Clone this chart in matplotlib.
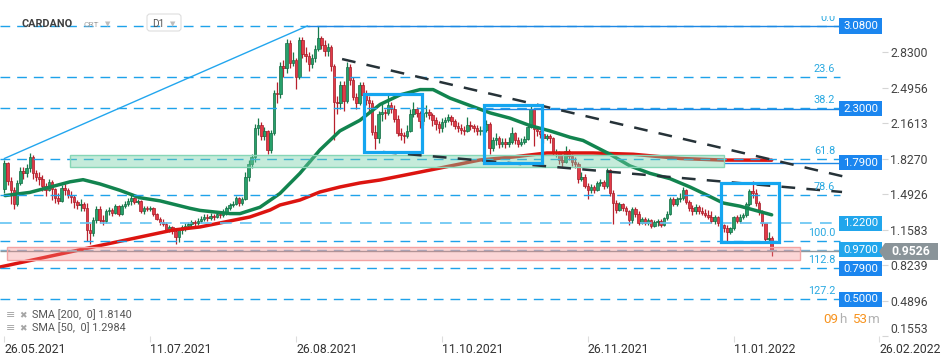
import matplotlib
matplotlib.use("Agg")
import matplotlib.pyplot as plt
import matplotlib.transforms as mtransforms
from matplotlib.patches import Rectangle, Polygon, FancyBboxPatch
import numpy as np

plt.rcParams['font.family'] = ['Roboto', 'DejaVu Sans']

# daily candles from 26.05.2021, day index 0 = 26.05.2021 (open = previous close)
first_open = 1.54
close = [1.79, 1.62, 1.53, 1.40, 1.60, 1.71, 1.69, 1.74, 1.84, 1.69,
         1.66, 1.64, 1.57, 1.53, 1.61, 1.54, 1.46, 1.43, 1.55, 1.53,
         1.49, 1.47, 1.42, 1.39, 1.40, 1.36, 1.16, 1.13, 1.25, 1.35,
         1.25, 1.24, 1.33, 1.34, 1.32, 1.38, 1.31, 1.38, 1.40, 1.43,
         1.46, 1.42, 1.43, 1.33, 1.36, 1.35, 1.36, 1.31, 1.26, 1.23,
         1.21, 1.16, 1.18, 1.15, 1.09, 1.16, 1.18, 1.19, 1.21, 1.23,
         1.22, 1.24, 1.26, 1.28, 1.27, 1.29, 1.28, 1.31, 1.30, 1.32,
         1.36, 1.39, 1.40, 1.46, 1.41, 1.45, 1.66, 1.78, 1.84, 2.12,
         2.15, 2.04, 2.09, 1.91, 2.07, 2.45, 2.44, 2.70, 2.68, 2.92,
         2.73, 2.76, 2.60, 2.95, 2.82, 2.80, 2.72, 2.78, 2.86, 2.97,
         2.90, 2.84, 2.88, 2.70, 2.36, 2.35, 2.52, 2.37, 2.69, 2.57,
         2.41, 2.35, 2.52, 2.43, 2.38, 2.35, 2.08, 2.02, 2.25, 2.27,
         2.26, 2.33, 2.30, 2.20, 2.07, 2.05, 2.04, 2.09, 2.25, 2.30,
         2.26, 2.18, 2.26, 2.27, 2.24, 2.19, 2.16, 2.12, 2.17, 2.19,
         2.22, 2.18, 2.14, 2.12, 2.10, 2.09, 2.15, 2.14, 2.12, 2.09,
         2.09, 2.10, 2.16, 1.93, 2.00, 2.02, 1.97, 1.99, 1.97, 1.99,
         2.07, 2.00, 1.97, 1.99, 2.01, 2.13, 2.30, 2.11, 2.09, 2.06,
         2.02, 2.04, 2.02, 1.88, 1.88, 1.82, 1.80, 1.90, 1.85, 1.80,
         1.78, 1.64, 1.66, 1.57, 1.53, 1.56, 1.53, 1.60, 1.61, 1.57,
         1.72, 1.50, 1.41, 1.34, 1.40, 1.36, 1.33, 1.25, 1.35, 1.31,
         1.22, 1.26, 1.22, 1.25, 1.19, 1.23, 1.24, 1.20, 1.27, 1.31,
         1.45, 1.40, 1.45, 1.46, 1.53, 1.42, 1.36, 1.33, 1.37, 1.33,
         1.32, 1.30, 1.28, 1.24, 1.28, 1.22, 1.20, 1.17, 1.14, 1.17,
         1.28, 1.24, 1.28, 1.30, 1.40, 1.52, 1.50, 1.41, 1.33, 1.22,
         1.07, 1.08, 0.9526]
high = [1.82, 1.80, 1.66, 1.56, 1.63, 1.75, 1.75, 1.78, 1.88, 1.86,
        1.72, 1.70, 1.67, 1.60, 1.64, 1.63, 1.55, 1.50, 1.58, 1.60,
        1.55, 1.52, 1.49, 1.44, 1.45, 1.42, 1.41, 1.22, 1.28, 1.38,
        1.38, 1.30, 1.35, 1.37, 1.36, 1.40, 1.39, 1.40, 1.43, 1.46,
        1.50, 1.47, 1.45, 1.44, 1.38, 1.38, 1.38, 1.37, 1.32, 1.28,
        1.26, 1.23, 1.20, 1.19, 1.17, 1.17, 1.20, 1.22, 1.23, 1.25,
        1.25, 1.27, 1.29, 1.31, 1.31, 1.32, 1.31, 1.33, 1.33, 1.35,
        1.38, 1.41, 1.43, 1.48, 1.47, 1.47, 1.70, 1.82, 1.87, 2.16,
        2.21, 2.17, 2.13, 2.10, 2.10, 2.48, 2.55, 2.74, 2.76, 2.96,
        2.95, 2.83, 2.78, 2.98, 2.98, 2.88, 2.83, 2.82, 2.90, 3.08,
        2.99, 2.95, 2.92, 2.90, 2.72, 2.42, 2.56, 2.56, 2.74, 2.72,
        2.60, 2.45, 2.55, 2.55, 2.48, 2.42, 2.38, 2.15, 2.28, 2.35,
        2.30, 2.45, 2.36, 2.33, 2.24, 2.12, 2.08, 2.15, 2.30, 2.36,
        2.32, 2.28, 2.30, 2.33, 2.30, 2.26, 2.22, 2.18, 2.21, 2.22,
        2.25, 2.24, 2.20, 2.17, 2.16, 2.14, 2.22, 2.18, 2.16, 2.15,
        2.14, 2.14, 2.19, 2.17, 2.03, 2.07, 2.04, 2.02, 2.02, 2.03,
        2.13, 2.08, 2.03, 2.02, 2.04, 2.16, 2.33, 2.31, 2.14, 2.10,
        2.08, 2.06, 2.06, 2.03, 1.92, 1.90, 1.86, 1.95, 1.92, 1.87,
        1.84, 1.80, 1.70, 1.68, 1.60, 1.59, 1.58, 1.62, 1.64, 1.63,
        1.74, 1.73, 1.53, 1.44, 1.42, 1.41, 1.38, 1.34, 1.37, 1.37,
        1.33, 1.28, 1.28, 1.27, 1.26, 1.25, 1.26, 1.26, 1.28, 1.33,
        1.47, 1.47, 1.47, 1.50, 1.56, 1.54, 1.44, 1.39, 1.40, 1.39,
        1.37, 1.35, 1.34, 1.33, 1.30, 1.29, 1.24, 1.21, 1.20, 1.18,
        1.29, 1.30, 1.31, 1.32, 1.42, 1.54, 1.62, 1.54, 1.43, 1.34,
        1.20, 1.14, 1.10]
low = [1.50, 1.58, 1.40, 1.35, 1.38, 1.58, 1.64, 1.66, 1.70, 1.64,
       1.62, 1.58, 1.52, 1.48, 1.52, 1.44, 1.41, 1.40, 1.42, 1.49,
       1.46, 1.41, 1.36, 1.35, 1.33, 1.33, 1.05, 1.02, 1.10, 1.22,
       1.22, 1.20, 1.22, 1.30, 1.29, 1.31, 1.29, 1.30, 1.36, 1.38,
       1.39, 1.40, 1.40, 1.32, 1.31, 1.33, 1.33, 1.29, 1.25, 1.20,
       1.19, 1.15, 1.14, 1.12, 1.02, 1.04, 1.12, 1.15, 1.17, 1.18,
       1.19, 1.20, 1.22, 1.24, 1.24, 1.25, 1.25, 1.27, 1.27, 1.28,
       1.30, 1.34, 1.37, 1.39, 1.38, 1.39, 1.44, 1.62, 1.74, 1.80,
       2.05, 2.00, 2.00, 1.87, 1.88, 2.05, 2.35, 2.40, 2.60, 2.64,
       2.68, 2.70, 2.49, 2.58, 2.78, 2.74, 2.66, 2.68, 2.74, 2.84,
       2.86, 2.80, 2.80, 2.66, 2.00, 2.25, 2.30, 2.28, 2.35, 2.52,
       2.38, 2.30, 2.33, 2.40, 2.33, 2.28, 2.05, 1.92, 1.98, 2.18,
       2.20, 2.24, 2.26, 2.17, 2.04, 2.00, 1.98, 2.02, 2.08, 2.22,
       2.22, 2.12, 2.15, 2.22, 2.20, 2.14, 2.10, 2.07, 2.08, 2.13,
       2.17, 2.15, 2.11, 2.08, 2.06, 2.05, 2.08, 2.10, 2.08, 2.05,
       2.05, 2.05, 2.08, 1.87, 1.90, 1.96, 1.93, 1.94, 1.93, 1.94,
       1.97, 1.97, 1.94, 1.95, 1.97, 2.00, 2.12, 1.95, 2.04, 2.02,
       1.98, 2.00, 1.98, 1.86, 1.84, 1.78, 1.75, 1.79, 1.82, 1.76,
       1.74, 1.60, 1.62, 1.55, 1.45, 1.50, 1.50, 1.52, 1.57, 1.54,
       1.55, 1.48, 1.21, 1.32, 1.33, 1.33, 1.30, 1.20, 1.22, 1.28,
       1.20, 1.21, 1.20, 1.20, 1.17, 1.18, 1.19, 1.18, 1.19, 1.25,
       1.30, 1.38, 1.38, 1.42, 1.44, 1.40, 1.33, 1.30, 1.31, 1.31,
       1.30, 1.28, 1.26, 1.22, 1.21, 1.19, 1.17, 1.14, 1.05, 1.12,
       1.16, 1.22, 1.22, 1.26, 1.28, 1.38, 1.46, 1.38, 1.30, 1.19,
       1.03, 1.03, 0.91]

sma200_days = [-1.4, 27.9, 53.2, 61.7, 77.4, 83.8, 86.9, 93.2, 99.5, 105.8, 112.1,
               118.5, 131.1, 143.7, 150.0, 160.4, 171.1, 185.6, 198.3, 213.1, 226.7, 242]
sma200_vals = [0.806, 0.995, 1.155, 1.184, 1.278, 1.344, 1.391, 1.438, 1.514, 1.561, 1.599,
               1.627, 1.702, 1.778, 1.816, 1.844, 1.882, 1.882, 1.87, 1.83, 1.815, 1.814]
sma50_days = [0.2, 8.0, 14.4, 20.7, 24.8, 30.1, 36.4, 42.7, 49.1, 58.5, 61.7, 71.1, 74.3,
              80.6, 86.9, 93.2, 99.5, 105.8, 112.1, 118.5, 124.8, 131.1, 135.2, 140.5,
              146.8, 153.2, 159.5, 165.8, 172.1, 178.4, 182.5, 191.0, 197.3, 203.6,
              209.9, 216.3, 222.6, 226.7, 232.0, 242]
sma50_vals = [1.48, 1.51, 1.56, 1.61, 1.63, 1.59, 1.53, 1.46, 1.43, 1.36, 1.34, 1.31, 1.31,
              1.37, 1.50, 1.69, 1.91, 2.09, 2.19, 2.34, 2.43, 2.48, 2.48, 2.40,
              2.33, 2.26, 2.21, 2.14, 2.09, 2.03, 2.00, 1.87, 1.76, 1.69,
              1.64, 1.56, 1.47, 1.41, 1.38, 1.2984]

fib_top = 3.08
fib_bottom = 1.052
fib_pct = [0.0, 23.6, 38.2, 61.8, 78.6, 100.0, 112.8, 127.2]

level_prices = [3.08, 2.30, 1.79, 1.22, 0.97, 0.79, 0.50]
level_light = [False, False, False, True, True, False, False]
last_price = 0.9526

price_ticks = [2.8300, 2.4956, 2.1613, 1.8270, 1.4926, 1.1583, 0.8239, 0.4896, 0.1553]
date_ticks = [0, 46, 92, 138, 184, 230, 276]
date_labels = ['26.05.2021', '11.07.2021', '26.08.2021', '11.10.2021',
               '26.11.2021', '11.01.2022', '26.02.2022']

# drawings on the chart: (day, price)
upper_trend = [(106.5, 2.768), (266.7, 1.646)]
lower_trend = [(119.4, 1.891), (264.2, 1.514)]
rise_line = [(0.0, 1.83), (95.5, 3.08)]
boxes = [(113.4, 131.7, 1.891, 2.438), (151.3, 169.6, 1.787, 2.335), (225.9, 244.3, 1.042, 1.599)]
green_zone = (20.7, 227.0, 1.750, 1.863)
red_zone = (0.8, 251.0, 0.868, 0.995)

W, H = 950, 361
XMIN, XMAX = -1.4, 276.8
LINE_END = 263.6
TOP_PX, BOT_PX = 16, 336

fig = plt.figure(figsize=(W / 100, H / 100), dpi=100)
ax = fig.add_axes([0, (H - BOT_PX) / H, 882 / W, (BOT_PX - TOP_PX) / H])
ax.set_xlim(XMIN, XMAX)
ax.set_ylim(0.1553, 0.1553 + (BOT_PX - TOP_PX) / 106)
for s in ax.spines.values():
    s.set_visible(False)

# candles
c = np.array(close)
h = np.array(high)
l = np.array(low)
o = np.r_[first_open, c[:-1]]
d = np.arange(len(c))
up = c >= o
body_lo = np.minimum(o, c)
body_h = np.maximum(np.abs(c - o), 0.008)
ax.vlines(d, np.minimum(l, body_lo), np.maximum(h, body_lo + body_h),
          colors=np.where(up, '#177a4c', '#b8202d'), lw=0.9, zorder=2)
ax.bar(d, body_h, bottom=body_lo, width=0.8, color=np.where(up, '#27a06b', '#e23a47'),
       edgecolor=np.where(up, '#146c43', '#a51c28'), linewidth=0.5, zorder=2.2)

# moving averages
ax.plot(sma200_days, sma200_vals, color='#dc1410', lw=2.5, solid_capstyle='round', zorder=3)
ax.plot(sma50_days, sma50_vals, color='#12844f', lw=2.5, solid_capstyle='round', zorder=3)

# fibonacci levels
fib_span = fib_top - fib_bottom
for p in fib_pct:
    y = fib_top - p / 100 * fib_span
    ax.hlines(y, XMIN, LINE_END, color='#1ea2ea', lw=1.0, linestyles=(0, (7, 5)), zorder=3.5)
    ax.text(262, y + 0.03, f'{p:.1f}', ha='right', va='bottom', fontsize=7.8, color='#29a9e1',
            clip_on=True, zorder=6)

# horizontal levels
ax.hlines(3.08, rise_line[1][0], LINE_END, color='#1e88e5', lw=1.0, zorder=3.6)
ax.hlines(2.30, boxes[1][0], LINE_END, color='#1e88e5', lw=1.0, zorder=3.6)
ax.hlines(1.79, green_zone[1], LINE_END, color='#1e88e5', lw=1.0, zorder=3.6)
ax.hlines(1.22, XMIN, LINE_END, color='#63c3f2', lw=1.2, linestyles=(0, (7, 5)), zorder=3.5)
ax.hlines(0.97, XMIN, LINE_END, color='#7fb4d6', lw=1.0, linestyles=(0, (7, 5)), zorder=3.5)
ax.hlines(last_price, XMIN, LINE_END, color='#8f979b', lw=1.0, zorder=3.6)

# zones
gz = green_zone
ax.add_patch(Rectangle((gz[0], gz[2]), gz[1] - gz[0], gz[3] - gz[2], fc=(0.45, 0.82, 0.66, 0.42),
                       ec='#86d6b6', lw=1.0, zorder=4))
rz = red_zone
ax.add_patch(Rectangle((rz[0], rz[2]), rz[1] - rz[0], rz[3] - rz[2], fc=(0.96, 0.55, 0.55, 0.35),
                       ec='#f2a3a3', lw=1.0, zorder=4))

# trend lines
ax.plot(*zip(*rise_line), color='#22a6ee', lw=1.0, zorder=3.6)
for line in (upper_trend, lower_trend):
    ax.plot(*zip(*line), color='#263238', lw=1.8, linestyle=(0, (5.5, 4.5)), zorder=5)
for x0, x1, y0, y1 in boxes:
    ax.add_patch(Rectangle((x0, y0), x1 - x0, y1 - y0, fill=False, ec='#15a6f0', lw=2.3, zorder=5))

# price boxes on the right
blend = mtransforms.blended_transform_factory(ax.transAxes, ax.transData)
bh = 0.142
for price, light in zip(level_prices, level_light):
    fc = '#21a6ec' if light else '#1b86ef'
    ax.add_patch(Rectangle((839 / 882, price - bh / 2), 42.5 / 882, bh, transform=blend,
                           fc=fc, ec='none', zorder=7))
    ax.text(860.5 / 882, price, f'{price:.4f}', transform=blend, ha='center', va='center',
            fontsize=8.2, color='white', zorder=8)

# last price tag
tag = Polygon([(879 / 882, last_price), (885 / 882, last_price + 0.08), (938 / 882, last_price + 0.08),
               (938 / 882, last_price - 0.08), (885 / 882, last_price - 0.08)],
              closed=True, transform=blend, fc='#8a9499', ec='none', clip_on=False, zorder=9)
ax.add_patch(tag)
ax.text(911 / 882, last_price, f'{last_price:.4f}', transform=blend, ha='center', va='center',
        fontsize=8.8, fontweight='bold', color='white', clip_on=False, zorder=10)

# axes
ax.yaxis.tick_right()
ax.set_yticks(price_ticks)
ax.set_yticklabels([f'{v:.4f}' for v in price_ticks])
ax.tick_params(axis='y', length=4, width=0.8, color='#d5d5d5', labelcolor='#444444',
               labelsize=8.8, pad=2)
ax.yaxis.get_major_ticks()[-1].label2.set_va('bottom')
ax.set_xticks(date_ticks)
ax.set_xticklabels(date_labels, ha='left')
ax.tick_params(axis='x', length=4, width=0.8, color='#dddddd', labelcolor='#333333',
               labelsize=8.8, pad=1)

# header
fig.text(21 / W, 1 - 27 / H, 'CARDANO', fontsize=7.8, fontweight='bold', color='#3f3f3f', va='baseline')
fig.text(83 / W, 1 - 27 / H, 'CRT', fontsize=6.0, color='#a0a0a0', va='baseline')
fig.text(105 / W, 1 - 26 / H, '▼', fontsize=5.0, color='#bdbdbd', va='baseline')
fig.patches.append(FancyBboxPatch((147, H - 31), 34, 17, boxstyle='round,pad=0,rounding_size=3',
                                  transform=mtransforms.IdentityTransform(), fc='none',
                                  ec='#dedede', lw=0.8))
fig.text(152 / W, 1 - 27 / H, 'D1', fontsize=7.2, color='#555555', va='baseline')
fig.text(170 / W, 1 - 26 / H, '▼', fontsize=5.0, color='#bdbdbd', va='baseline')

# indicator legend
for i, txt in enumerate(['SMA [200,  0] 1.8140', 'SMA [50,  0] 1.2984']):
    yy = 1 - (318 + 13 * i) / H
    fig.text(6 / W, yy, '≡', fontsize=8, color='#a5a5a5', va='baseline')
    fig.text(19 / W, yy, '✖', fontsize=6.5, color='#a5a5a5', va='baseline')
    fig.text(32 / W, yy, txt, fontsize=7.8, color='#555555', va='baseline')

# countdown
for x, txt, col in [(823, '09', '#f7931e'), (839, 'h', '#b0b0b0'), (852, '53', '#f7931e'), (867, 'm', '#b0b0b0')]:
    fig.text(x / W, 1 - 323 / H, txt, fontsize=9.6, color=col, va='baseline')

fig.savefig('out.png', dpi=100)
